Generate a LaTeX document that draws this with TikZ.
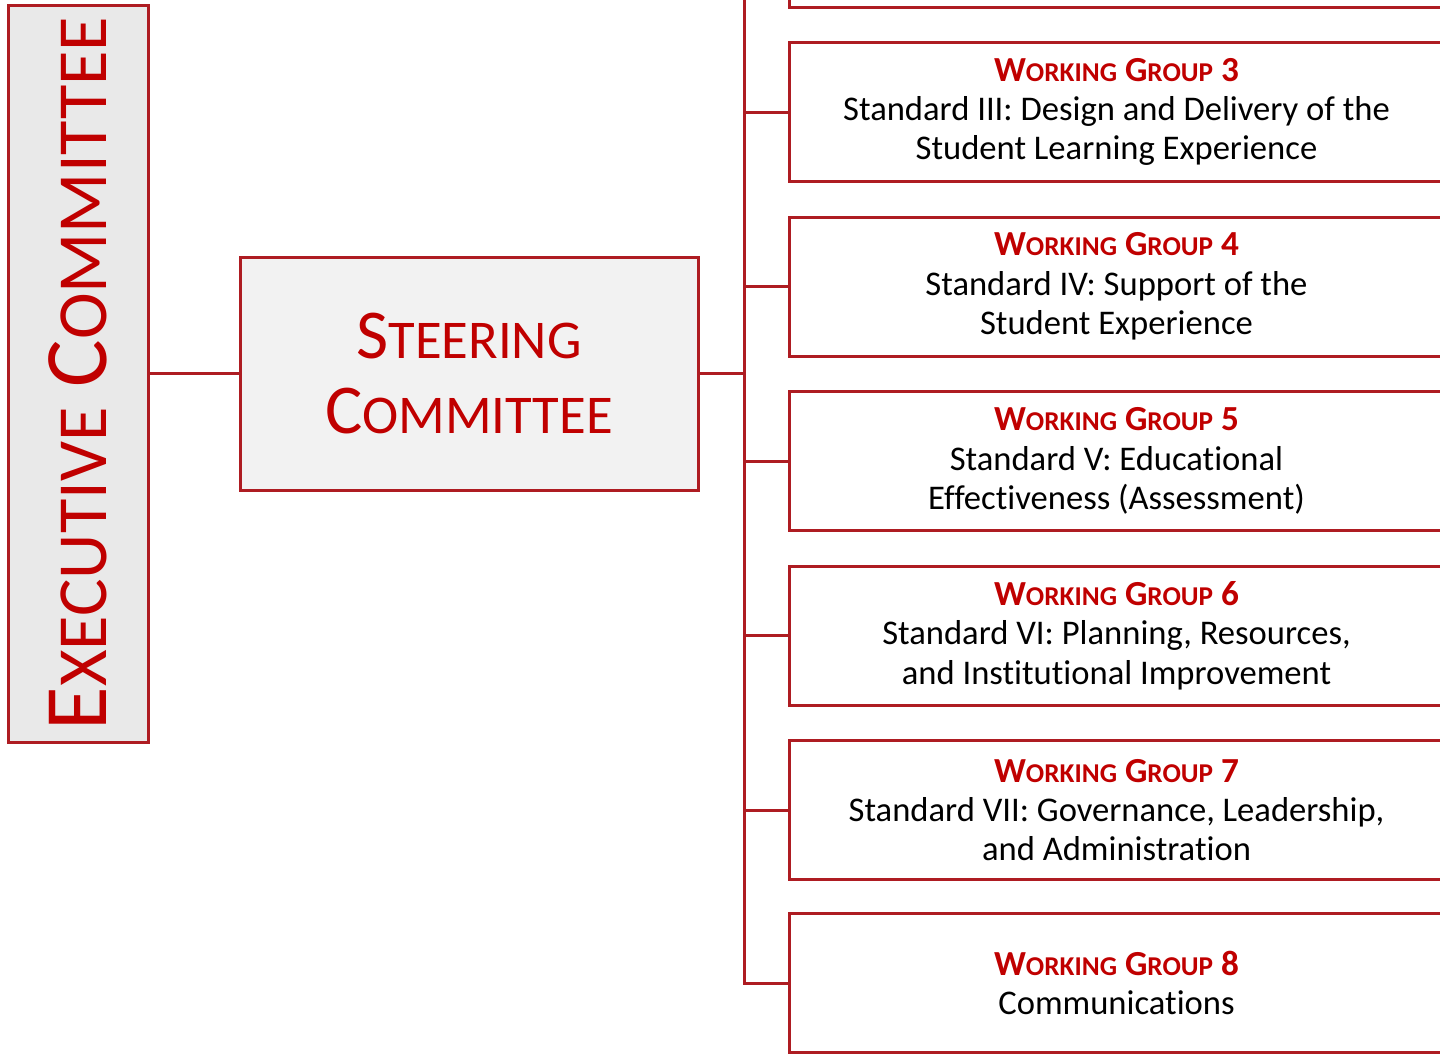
\documentclass[tikz,border=0pt]{standalone}
\usepackage{fontspec}
\usepackage{graphicx}
\setmainfont{Carlito}[Ligatures=NoCommon]
\usetikzlibrary{positioning}
\definecolor{boxred}{HTML}{AE1C22}
\definecolor{txtred}{HTML}{C00000}
\definecolor{execgray}{HTML}{E9E9E9}
\definecolor{steergray}{HTML}{F2F2F2}
% fake small caps
\newcommand{\sclow}[2]{{\fontsize{#1}{#1}\selectfont #2}}
\newcommand{\wghead}[1]{{\fontsize{17.6}{19.7}\selectfont\bfseries\color{txtred}W\sclow{13.6}{ORKING} G\sclow{13.6}{ROUP} #1}}
\begin{document}
\begin{tikzpicture}[x=0.5pt,y=-0.5pt,
    redbox/.style={draw=boxred,line width=1.5pt,inner sep=0pt},
    wgbox/.style={redbox,fill=white,minimum width=327.5pt,minimum height=69.5pt,
      align=center,font=\fontsize{17.3}{19.7}\selectfont},
    link/.style={draw=boxred,line width=1.5pt}]
    \useasboundingbox (0,0) rectangle (1440,1055);
    \clip (0,0) rectangle (1440,1055);
    \fill[white] (0,0) rectangle (1440,1055);
    % left side
    \node[redbox,fill=execgray,minimum width=70pt,minimum height=368.5pt] (exec) at (78,373.5)
      {\rotatebox{90}{\fontsize{44.6}{44.6}\selectfont\color{txtred}E\sclow{35.2}{XECUTIVE} C\sclow{35.2}{OMMITTEE}}};
    \node[redbox,fill=steergray,minimum width=229pt,minimum height=116.5pt,align=center,
      font=\fontsize{35}{37.5}\selectfont\color{txtred}] (steer) at (469,373.5)
      {S\sclow{27.3}{TEERING}\\C\sclow{27.3}{OMMITTEE}};
    % working groups
    \node[wgbox] (wg2) at (1116.5,-62.5) {};
    \node[wgbox] (wg3) at (1116.5,112) {\wghead{3}\\Standard III: Design and Delivery of the\\Student Learning Experience};
    \node[wgbox] (wg4) at (1116.5,286.5) {\wghead{4}\\Standard IV: Support of the\\Student Experience};
    \node[wgbox] (wg5) at (1116.5,461) {\wghead{5}\\Standard V: Educational\\Effectiveness (Assessment)};
    \node[wgbox] (wg6) at (1116.5,635.5) {\wghead{6}\\Standard VI: Planning, Resources,\\and Institutional Improvement};
    \node[wgbox] (wg7) at (1116.5,810) {\wghead{7}\\Standard VII: Governance, Leadership,\\and Administration};
    \node[wgbox] (wg8) at (1116.5,983) {\wghead{8}\\Communications};
    % connectors
    \coordinate (trunk) at (744,-10);
    \draw[link] (exec.east) -- (steer.west);
    \draw[link] (steer.east) -- (steer.east -| trunk);
    \draw[link] (trunk) |- (wg8.west);
    \draw[link] (wg3.west) -- (wg3.west -| trunk);
    \draw[link] (wg4.west) -- (wg4.west -| trunk);
    \draw[link] (wg5.west) -- (wg5.west -| trunk);
    \draw[link] (wg6.west) -- (wg6.west -| trunk);
    \draw[link] (wg7.west) -- (wg7.west -| trunk);
\end{tikzpicture}
\end{document}
